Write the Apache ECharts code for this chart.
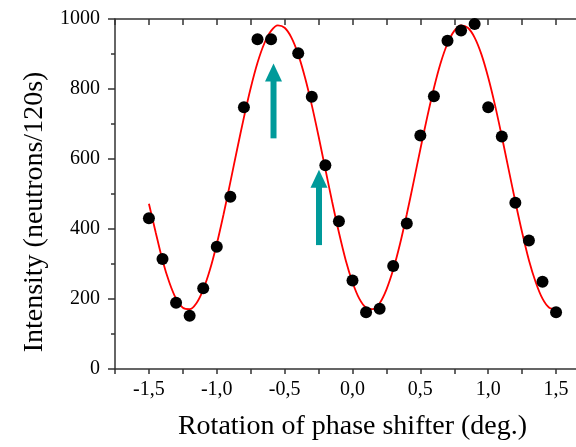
<!DOCTYPE html>
<html>
<head>
<meta charset="utf-8">
<script src="https://cdn.jsdelivr.net/npm/echarts@6/dist/echarts.min.js"></script>
<style>html,body{margin:0;padding:0;background:#fff}#c{width:576px;height:447px}</style>
</head>
<body>
<div id="c"></div>
<script>
// Measured points
var pointX = [-1.5,-1.4,-1.3,-1.2,-1.1,-1.0,-0.9,-0.8,-0.7,-0.6,-0.4,-0.3,-0.2,-0.1,0.0,0.1,0.2,0.3,0.4,0.5,0.6,0.7,0.8,0.9,1.0,1.1,1.2,1.3,1.4,1.5];
var pointY = [431,314,189,152,231,349,492,748,942,942,902,778,582,422,253,162,172,294,416,667,779,938,967,986,748,664,475,367,249,162];
// Fitted curve
var curveX = [-1.5,-1.45,-1.4,-1.35,-1.3,-1.25,-1.2,-1.15,-1.1,-1.05,-1.0,-0.95,-0.9,-0.85,-0.8,-0.75,-0.7,-0.65,-0.6,-0.55,-0.5,-0.45,-0.4,-0.35,-0.3,-0.25,-0.2,-0.15,-0.1,-0.05,0.0,0.05,0.1,0.15,0.2,0.25,0.3,0.35,0.4,0.45,0.5,0.55,0.6,0.65,0.7,0.75,0.8,0.85,0.9,0.95,1.0,1.05,1.1,1.15,1.2,1.25,1.3,1.35,1.4,1.45,1.5];
var curveY = [472,390,311,248,201,175,171,188,227,284,357,442,534,628,719,803,875,930,966,982,975,947,899,833,754,665,571,478,390,311,248,201,175,171,188,227,284,357,442,534,628,719,803,875,930,966,982,975,947,899,833,754,665,571,478,390,311,248,201,175,171];
// Arrows: x position, tail value, tip value
var arrowX = [-0.582, -0.247];
var arrowFrom = [659, 354];
var arrowTo = [873, 569];
// Axis settings
var xMin = -1.75, xMax = 1.75, xStep = 0.25;
var yMin = 0, yMax = 1000, yStep = 200;

var chart = echarts.init(document.getElementById('c'), null, {renderer: 'canvas'});
var font = 'Liberation Serif';
var axisCol = '#333';

var pts = pointX.map(function (x, i) { return [x, pointY[i]]; });
var crv = curveX.map(function (x, i) { return [x, curveY[i]]; });
var arr = arrowX.map(function (x, i) { return [x, arrowFrom[i], arrowTo[i]]; });

chart.setOption({
  animation: false,
  backgroundColor: '#fff',
  grid: {left: 115, width: 475, top: 19, height: 350, containLabel: false, outerBoundsMode: 'none'},
  xAxis: [{
    type: 'value', min: xMin, max: xMax, interval: xStep, position: 'bottom',
    name: 'Rotation of phase shifter (deg.)', nameLocation: 'middle', nameGap: 44,
    nameTextStyle: {fontFamily: font, fontSize: 28, color: '#000', padding: [0, 0, 0, 0]},
    axisLine: {show: true, onZero: false, lineStyle: {color: axisCol, width: 1.5}},
    axisTick: {show: true, inside: false, length: 5, lineStyle: {color: axisCol, width: 1.5}},
    axisLabel: {
      fontFamily: font, fontSize: 20, color: '#000', margin: 11, showMinLabel: true, showMaxLabel: true,
      formatter: function (v) {
        if (Math.abs(v * 2 - Math.round(v * 2)) > 1e-6) return '';
        var s = (Math.abs(v) < 1e-9 ? 0 : v).toFixed(1).replace('.', ',');
        return s;
      }
    },
    splitLine: {show: false}
  }, {
    type: 'value', min: xMin, max: xMax, interval: xStep, position: 'top',
    axisLine: {show: true, onZero: false, lineStyle: {color: axisCol, width: 1.5}},
    axisTick: {show: true, inside: true, length: 6, lineStyle: {color: axisCol, width: 1.5}},
    axisLabel: {show: false},
    splitLine: {show: false}
  }],
  yAxis: {
    type: 'value', min: yMin, max: yMax, interval: yStep,
    name: 'Intensity (neutrons/120s)', nameLocation: 'middle', nameGap: 63,
    nameTextStyle: {fontFamily: font, fontSize: 28, color: '#000', padding: [0, 36, 0, 0]},
    axisLine: {show: true, onZero: false, lineStyle: {color: axisCol, width: 1.5}},
    axisTick: {show: true, inside: false, length: 7, lineStyle: {color: axisCol, width: 1.5}},
    minorTick: {show: true, splitNumber: 2, length: 4, lineStyle: {color: axisCol, width: 1.5}},
    axisLabel: {fontFamily: font, fontSize: 20, color: '#000', margin: 15,
      formatter: function (v) { return String(v); }},
    splitLine: {show: false}
  },
  series: [{
    type: 'line', data: crv, showSymbol: false, smooth: 0.3,
    lineStyle: {color: '#ff0000', width: 1.8}, z: 3
  }, {
    type: 'scatter', data: pts, symbol: 'circle', symbolSize: 12,
    itemStyle: {color: '#000', opacity: 1}, z: 4
  }, {
    type: 'custom', data: arr, z: 5,
    renderItem: function (params, api) {
      var x = api.value(0);
      var p0 = api.coord([x, api.value(1)]);
      var p1 = api.coord([x, api.value(2)]);
      var headH = 18, headW = 17, shaftW = 6;
      var col = '#009a9a';
      return {
        type: 'group',
        children: [{
          type: 'rect',
          shape: {x: p0[0] - shaftW / 2, y: p1[1] + headH - 1, width: shaftW, height: p0[1] - p1[1] - headH + 1},
          style: {fill: col}
        }, {
          type: 'polygon',
          shape: {points: [[p1[0], p1[1]], [p1[0] - headW / 2, p1[1] + headH], [p1[0] + headW / 2, p1[1] + headH]]},
          style: {fill: col}
        }]
      };
    }
  }]
});
</script>
</body>
</html>
